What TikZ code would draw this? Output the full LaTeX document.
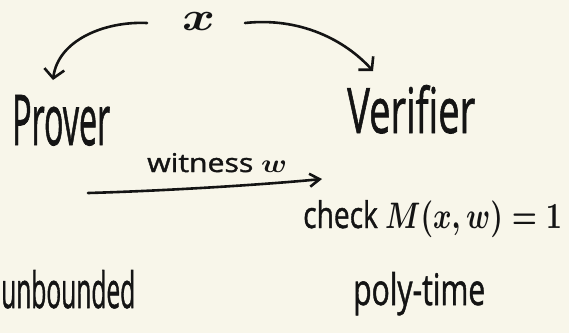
\documentclass[tikz,border=0pt]{standalone}
\usepackage{fontspec}
\setmainfont{Open Sans}[FakeBold=1.3]
\usetikzlibrary{arrows.meta}
\definecolor{paper}{HTML}{F8F6EA}
\definecolor{ink}{HTML}{141414}
\tikzset{
  lbl/.style={inner sep=0pt, anchor=base west, text=ink, font=\boldmath},
  pen/.style={draw=ink, line width=2.6pt, line cap=round, line join=round},
  barb/.style={-{Straight Barb[length=9pt,width=20pt]}},
  slimbarb/.style={-{Straight Barb[length=10pt,width=13pt]}}
}
\begin{document}
\begin{tikzpicture}[x=1pt,y=-1pt]
  % paper
  \fill[paper] (0,0) rectangle (569,333);
  \useasboundingbox (0,0) rectangle (569,333);

  % labels
  \node[lbl] (x)       at (182,30)  {\resizebox{33pt}{18pt}{$x$}};
  \node[lbl] (prover)  at (12,145)  {\resizebox{98pt}{50pt}{Prover}};
  \node[lbl] (verifier) at (347,133) {\resizebox{128pt}{48pt}{Verifier}};
  \node[lbl] (wit)     at (147,172) {\resizebox{140pt}{19pt}{witness $w$}};
  \node[lbl] (check)   at (303,228) {\resizebox{259pt}{28pt}{check $M(x,w)=1$}};
  \node[lbl] (unb)     at (1,308)   {\resizebox{134pt}{38pt}{unbounded}};
  \node[lbl] (poly)    at (353,305) {\resizebox{132pt}{33pt}{poly-time}};

  % arrow ends
  \coordinate (xL) at (147,23);
  \coordinate (xR) at (245,23);
  \coordinate (pIn) at (53,80);
  \coordinate (vIn) at (373,71);
  \coordinate (wOut) at (88,193);
  \coordinate (wIn) at (322,179);

  % x is given to both parties
  \draw[pen,barb] (xL) .. controls (105,21) and (58,40) .. (pIn);
  \draw[pen,barb] (xR) .. controls (300,17) and (345,40) .. (vIn);

  % the witness goes from prover to verifier
  \draw[pen,slimbarb] (wOut) .. controls (160,191) and (260,185) .. (wIn);
\end{tikzpicture}
\end{document}
